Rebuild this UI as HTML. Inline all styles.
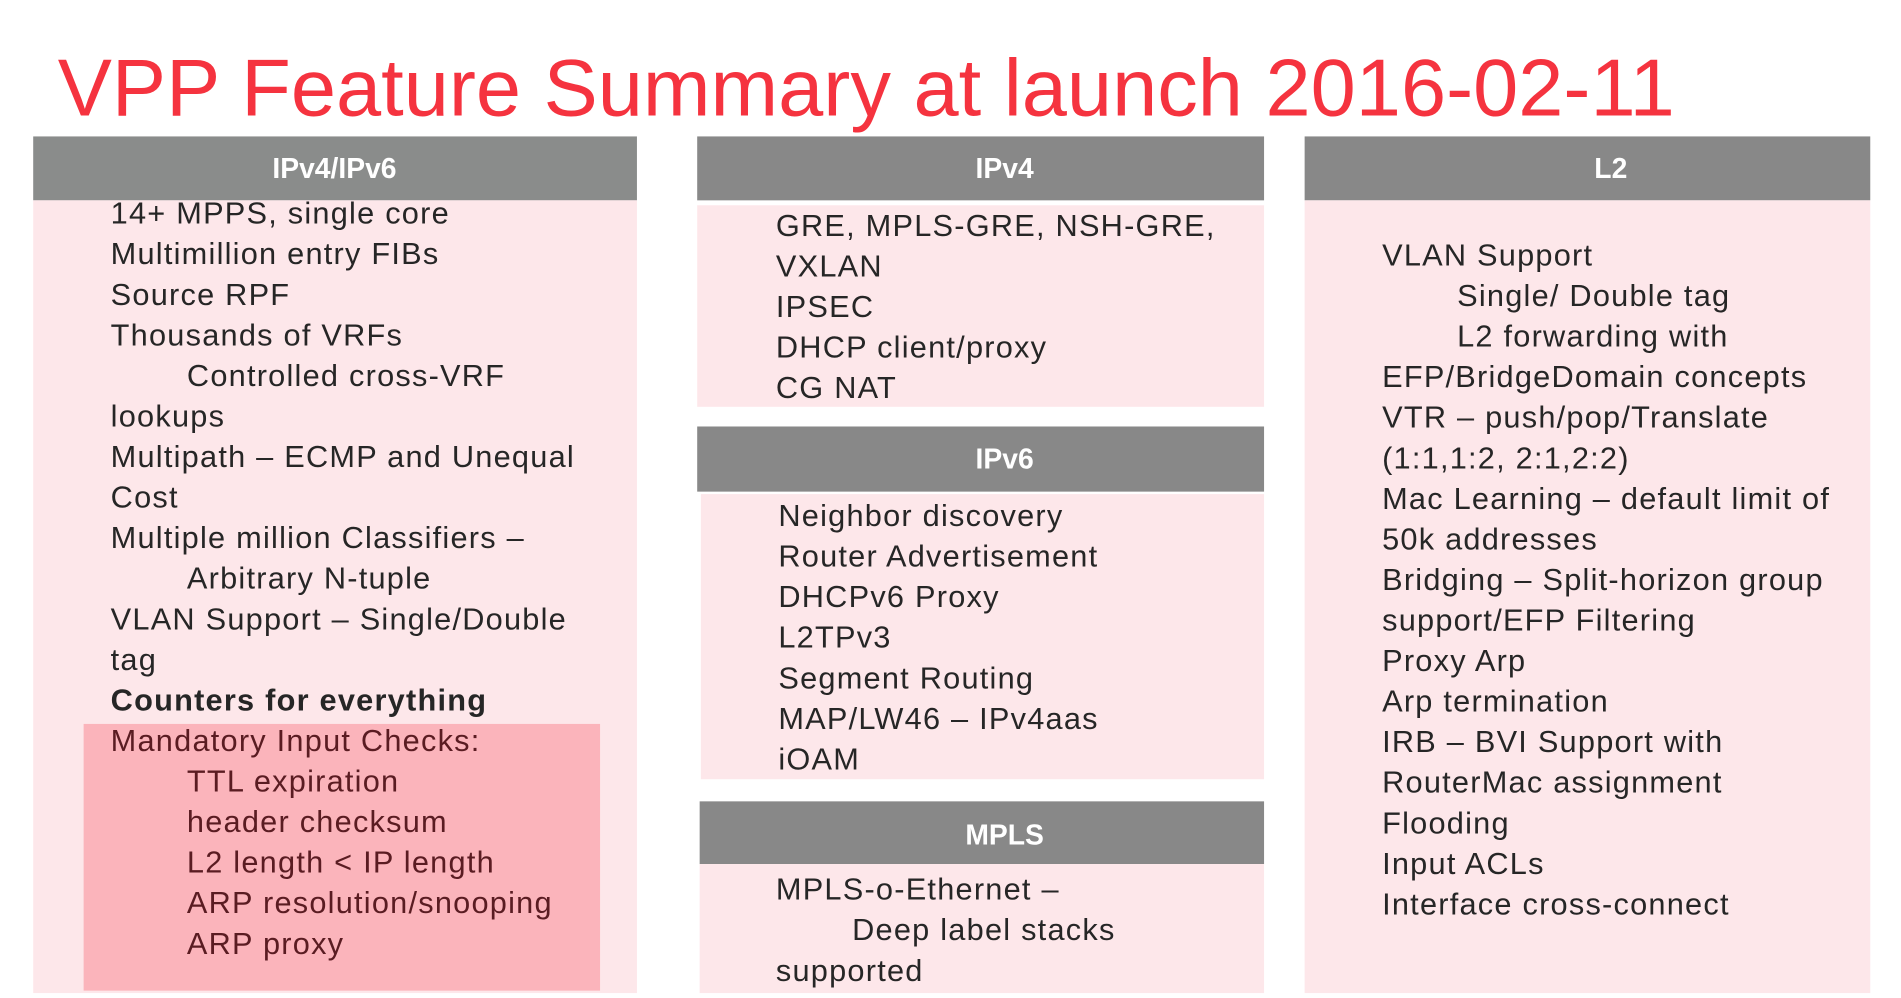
<!DOCTYPE html>
<html><head><meta charset="utf-8"><style>
html,body{margin:0;padding:0;background:#fff;width:1901px;height:998px;overflow:hidden}
svg{display:block}
text{font-family:"Liberation Sans",Arial,sans-serif;font-size:25px;letter-spacing:1px;fill:#262626}
.h{fill:#fff;font-weight:bold;font-size:23px;letter-spacing:0}
.r{fill:#5a1c22}
</style></head><body>
<svg width="1901" height="998" viewBox="0 0 1546 812" preserveAspectRatio="none" xmlns="http://www.w3.org/2000/svg">
<text x="47" y="94" style="font-size:66px;fill:#f5333f;letter-spacing:0" textLength="1315" lengthAdjust="spacingAndGlyphs">VPP Feature Summary at launch 2016-02-11</text>

<!-- column 1 -->
<rect x="27" y="111" width="491" height="52" fill="#8a8c8b"/>
<rect x="27" y="163" width="491" height="645" fill="#fde7ea"/>
<rect x="68" y="589" width="420" height="217" fill="#fbb4bb"/>
<text class="h" x="272" y="145" text-anchor="middle">IPv4/IPv6</text>
<text x="90" y="182">14+ MPPS, single core</text>
<text x="90" y="215">Multimillion entry FIBs</text>
<text x="90" y="248">Source RPF</text>
<text x="90" y="281">Thousands of VRFs</text>
<text x="152" y="314">Controlled cross-VRF</text>
<text x="90" y="347">lookups</text>
<text x="90" y="380">Multipath – ECMP and Unequal</text>
<text x="90" y="413">Cost</text>
<text x="90" y="446">Multiple million Classifiers –</text>
<text x="152" y="479">Arbitrary N-tuple</text>
<text x="90" y="512">VLAN Support – Single/Double</text>
<text x="90" y="545">tag</text>
<text x="90" y="578" style="font-weight:bold">Counters for everything</text>
<text class="r" x="90" y="611">Mandatory Input Checks:</text>
<text class="r" x="152" y="644">TTL expiration</text>
<text class="r" x="152" y="677">header checksum</text>
<text class="r" x="152" y="710">L2 length &lt; IP length</text>
<text class="r" x="152" y="743">ARP resolution/snooping</text>
<text class="r" x="152" y="776">ARP proxy</text>

<!-- column 2 -->
<rect x="567" y="111" width="461" height="52" fill="#888888"/>
<rect x="567" y="167" width="461" height="164" fill="#fde7ea"/>
<text class="h" x="817" y="145" text-anchor="middle">IPv4</text>
<text x="631" y="192">GRE, MPLS-GRE, NSH-GRE,</text>
<text x="631" y="225">VXLAN</text>
<text x="631" y="258">IPSEC</text>
<text x="631" y="291">DHCP client/proxy</text>
<text x="631" y="324">CG NAT</text>

<rect x="567" y="347" width="461" height="53" fill="#888888"/>
<rect x="570" y="402" width="458" height="232" fill="#fde7ea"/>
<text class="h" x="817" y="381" text-anchor="middle">IPv6</text>
<text x="633" y="428">Neighbor discovery</text>
<text x="633" y="461">Router Advertisement</text>
<text x="633" y="494">DHCPv6 Proxy</text>
<text x="633" y="527">L2TPv3</text>
<text x="633" y="560">Segment Routing</text>
<text x="633" y="593">MAP/LW46 – IPv4aas</text>
<text x="633" y="626">iOAM</text>

<rect x="569" y="652" width="459" height="51" fill="#888888"/>
<rect x="569" y="703" width="459" height="105" fill="#fde7ea"/>
<text class="h" x="817" y="687" text-anchor="middle">MPLS</text>
<text x="631" y="732">MPLS-o-Ethernet –</text>
<text x="693" y="765">Deep label stacks</text>
<text x="631" y="798">supported</text>

<!-- column 3 -->
<rect x="1061" y="111" width="460" height="52" fill="#888888"/>
<rect x="1061" y="163" width="460" height="645" fill="#fde7ea"/>
<text class="h" x="1310" y="145" text-anchor="middle">L2</text>
<text x="1124" y="216">VLAN Support</text>
<text x="1185" y="249">Single/ Double tag</text>
<text x="1185" y="282">L2 forwarding with</text>
<text x="1124" y="315">EFP/BridgeDomain concepts</text>
<text x="1124" y="348">VTR – push/pop/Translate</text>
<text x="1124" y="381">(1:1,1:2, 2:1,2:2)</text>
<text x="1124" y="414">Mac Learning – default limit of</text>
<text x="1124" y="447">50k addresses</text>
<text x="1124" y="480">Bridging – Split-horizon group</text>
<text x="1124" y="513">support/EFP Filtering</text>
<text x="1124" y="546">Proxy Arp</text>
<text x="1124" y="579">Arp termination</text>
<text x="1124" y="612">IRB – BVI Support with</text>
<text x="1124" y="645">RouterMac assignment</text>
<text x="1124" y="678">Flooding</text>
<text x="1124" y="711">Input ACLs</text>
<text x="1124" y="744">Interface cross-connect</text>
</svg>
</body></html>
